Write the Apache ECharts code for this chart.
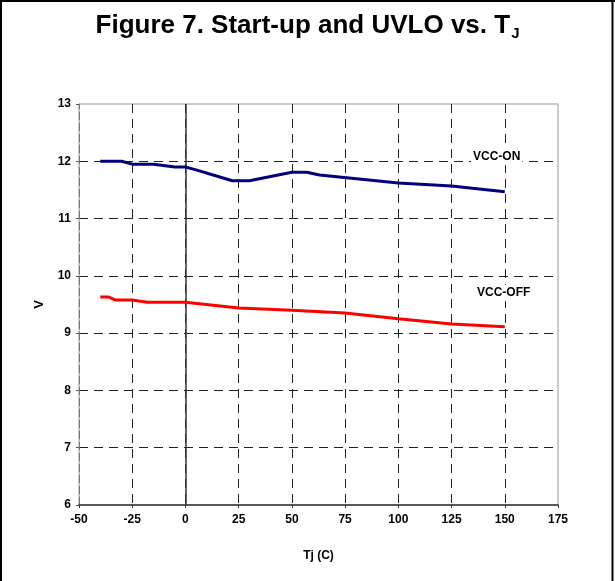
<!DOCTYPE html>
<html>
<head>
<meta charset="utf-8">
<script src="https://cdn.jsdelivr.net/npm/echarts@6/dist/echarts.min.js"></script>
<style>
html,body{margin:0;padding:0;background:#fff;}
#chart{width:615px;height:581px;}
</style>
</head>
<body>
<div id="chart"></div>
<script>
const xTicks = [-50, -25, 0, 25, 50, 75, 100, 125, 150, 175];
const yTicks = [6, 7, 8, 9, 10, 11, 12, 13];
const vccOnT = [-40, -30, -25, -15, -5, 0, 5, 13, 22, 30, 50, 57, 63, 100, 125, 150];
const vccOnV = [12.0, 12.0, 11.95, 11.95, 11.9, 11.9, 11.85, 11.76, 11.66, 11.66, 11.81, 11.81, 11.76, 11.62, 11.57, 11.47];
const vccOffT = [-40, -36, -33, -25, -18, 0, 25, 50, 75, 100, 125, 150];
const vccOffV = [9.63, 9.63, 9.58, 9.58, 9.54, 9.54, 9.44, 9.40, 9.35, 9.25, 9.16, 9.11];
const seriesNames = ['VCC-ON', 'VCC-OFF'];

const chart = echarts.init(document.getElementById('chart'));
const font = 'Liberation Sans, Arial, sans-serif';
const zip = (a, b) => a.map((v, i) => [v, b[i]]);

chart.setOption({
  backgroundColor: '#fff',
  animation: false,
  title: {
    text: '{m|Figure 7. Start-up and UVLO vs. T}{s|J}',
    left: 'center',
    top: 5,
    textStyle: {
      rich: {
        m: {fontFamily: font, fontWeight: 'bold', fontSize: 26, color: '#000'},
        s: {fontFamily: font, fontWeight: 'bold', fontSize: 15, color: '#000', padding: [16, 0, 0, 1]}
      }
    }
  },
  grid: {left: 79, top: 104, right: 57, bottom: 76, show: true, borderColor: '#999', borderWidth: 1},
  xAxis: {
    type: 'value', min: xTicks[0], max: xTicks[xTicks.length - 1], interval: 25,
    name: 'Tj (C)', nameLocation: 'middle', nameGap: 45,
    nameTextStyle: {fontFamily: font, fontWeight: 'bold', fontSize: 12, color: '#000'},
    axisLine: {show: true, onZero: false, lineStyle: {color: '#333', width: 1.5}},
    axisTick: {show: true, inside: false, length: 3, lineStyle: {color: '#333'}},
    axisLabel: {fontFamily: font, fontWeight: 'bold', fontSize: 12, color: '#000', margin: 9},
    splitLine: {show: true, showMinLine: false, showMaxLine: false, lineStyle: {color: '#222', type: [9, 6], width: 1}}
  },
  yAxis: {
    type: 'value', min: yTicks[0], max: yTicks[yTicks.length - 1], interval: 1,
    name: 'V', nameLocation: 'middle', nameGap: 33, nameRotate: 90,
    nameTextStyle: {fontFamily: font, fontWeight: 'bold', fontSize: 13, color: '#000'},
    axisLine: {show: true, onZero: false, lineStyle: {color: '#777', type: [8, 3], width: 1}},
    axisTick: {show: true, length: 3, lineStyle: {color: '#555'}},
    axisLabel: {fontFamily: font, fontWeight: 'bold', fontSize: 12, color: '#000', margin: 8},
    splitLine: {show: true, showMinLine: false, showMaxLine: false, lineStyle: {color: '#222', type: [9, 6], width: 1}}
  },
  series: [
    {
      name: seriesNames[0], type: 'line', data: zip(vccOnT, vccOnV), showSymbol: false,
      lineStyle: {color: '#000080', width: 3}, z: 5,
      markLine: {
        silent: true, symbol: 'none', label: {show: false},
        lineStyle: {color: '#333', type: 'solid', width: 1.5},
        data: [{xAxis: 0}]
      }
    },
    {
      name: seriesNames[1], type: 'line', data: zip(vccOffT, vccOffV), showSymbol: false,
      lineStyle: {color: '#ff0000', width: 3}, z: 5
    }
  ],
  graphic: [
    {type: 'text', left: 471, top: 149, z: 100, style: {text: seriesNames[0], font: 'bold 12px ' + font, fill: '#000', backgroundColor: '#fff', padding: [2, 2]}},
    {type: 'text', left: 475, top: 285, z: 100, style: {text: seriesNames[1], font: 'bold 12px ' + font, fill: '#000', backgroundColor: '#fff', padding: [2, 2]}},
    {type: 'line', shape: {x1: 1, y1: 0, x2: 1, y2: 581}, style: {stroke: '#000', lineWidth: 2}},
    {type: 'line', shape: {x1: 0, y1: 1, x2: 615, y2: 1}, style: {stroke: '#000', lineWidth: 2}},
    {type: 'line', shape: {x1: 612.5, y1: 0, x2: 612.5, y2: 581}, style: {stroke: '#000', lineWidth: 2}}
  ]
});
</script>
</body>
</html>
